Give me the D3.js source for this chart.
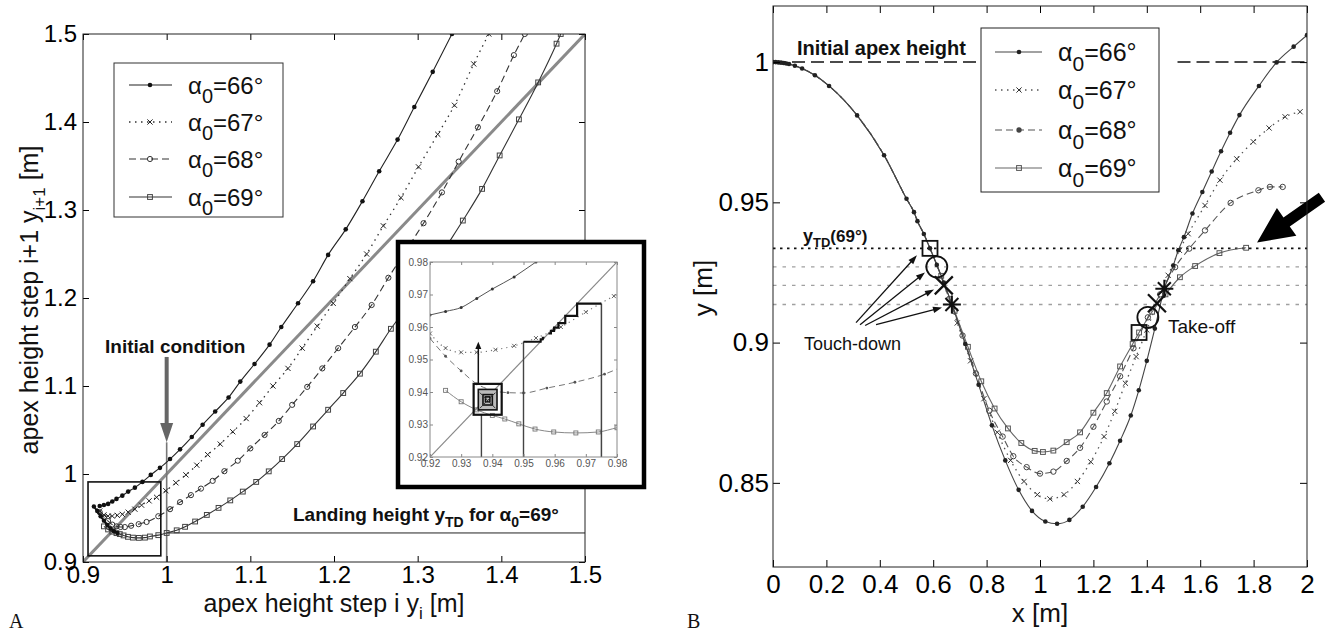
<!DOCTYPE html>
<html><head><meta charset="utf-8">
<script src="https://cdn.jsdelivr.net/npm/d3@7"></script>
<style>
body{margin:0;background:#fff;}
svg{display:block;}
text{font-family:"Liberation Sans",Arial,Helvetica,sans-serif;}
text.serif{font-family:"Liberation Serif","Times New Roman",serif;}
</style>
</head><body>
<svg id="c" width="1326" height="634"></svg>
<script>
// ---------------- DATA ----------------
// Panel A: apex return maps y_{i+1} = f(y_i)
const seriesNames = ["66", "67", "68", "69"];
const A66x = [0.92,0.925,0.93,0.935,0.94,0.947,0.954,0.962,0.971,0.981,0.992,1.004,1.016,1.030,1.043,1.058,1.074,1.088,1.105,1.123,1.137,1.157,1.175,1.193,1.214,1.234,1.254,1.276,1.296,1.318,1.341];
const A66y = [0.9637,0.9648,0.966,0.9688,0.9717,0.9754,0.980,0.9845,0.991,0.999,1.007,1.017,1.028,1.042,1.056,1.071,1.087,1.105,1.125,1.147,1.167,1.194,1.219,1.249,1.278,1.310,1.344,1.380,1.417,1.457,1.5];
const A67x = [0.92,0.925,0.93,0.935,0.941,0.947,0.954,0.962,0.970,0.979,0.988,0.999,1.011,1.023,1.036,1.049,1.064,1.079,1.095,1.111,1.127,1.145,1.162,1.180,1.199,1.219,1.239,1.259,1.280,1.301,1.324,1.344,1.367,1.385];
const A67y = [0.958,0.9535,0.9522,0.9522,0.953,0.9542,0.9566,0.960,0.9646,0.9695,0.9735,0.981,0.990,0.999,1.010,1.022,1.034,1.048,1.063,1.081,1.100,1.120,1.143,1.168,1.194,1.222,1.250,1.282,1.314,1.349,1.386,1.419,1.466,1.5];
const A68x = [0.92,0.925,0.93,0.935,0.94,0.945,0.95,0.9575,0.9665,0.976,0.990,1.004,1.016,1.029,1.041,1.055,1.069,1.085,1.100,1.117,1.134,1.150,1.168,1.186,1.205,1.225,1.245,1.265,1.286,1.307,1.329,1.349,1.372,1.395,1.415,1.428];
const A68y = [0.9565,0.951,0.9465,0.9425,0.9405,0.9398,0.9397,0.9412,0.943,0.9455,0.952,0.960,0.968,0.976,0.9834,0.9922,1.0032,1.0151,1.0291,1.0443,1.0603,1.0786,1.099,1.120,1.143,1.167,1.192,1.223,1.254,1.285,1.320,1.355,1.394,1.435,1.476,1.5];
const A69x = [0.925,0.93,0.935,0.94,0.944,0.9485,0.9537,0.9597,0.9668,0.974,0.98,0.99,1.000,1.012,1.022,1.034,1.048,1.062,1.076,1.091,1.107,1.122,1.138,1.156,1.175,1.193,1.211,1.231,1.250,1.268,1.29,1.31,1.33,1.354,1.377,1.398,1.421,1.444,1.466,1.471];
const A69y = [0.9405,0.937,0.9345,0.9328,0.9317,0.9302,0.9286,0.9277,0.9274,0.9277,0.929,0.9305,0.933,0.936,0.940,0.946,0.9535,0.9615,0.970,0.980,0.991,1.003,1.017,1.034,1.054,1.073,1.092,1.114,1.139,1.165,1.193,1.221,1.252,1.288,1.324,1.362,1.403,1.445,1.489,1.5];
// dense iterate cluster inside the small box
const clusterX = [0.913,0.917,0.921,0.925,0.929,0.933,0.937,0.941];
const clusterY = [0.963,0.958,0.952,0.947,0.942,0.938,0.935,0.933];
// cobweb staircases in inset
const cobAx = [0.975,0.975,0.9672,0.9672,0.9634,0.9634,0.9612,0.9612,0.9598,0.9598,0.9588,0.9588,0.958];
const cobAy = [0.920,0.9672,0.9672,0.9634,0.9634,0.9612,0.9612,0.9598,0.9598,0.9588,0.9588,0.958,0.958];
const cobBx = [0.95,0.95,0.9555,0.9555,0.9562,0.9562,0.9567];
const cobBy = [0.92,0.9555,0.9555,0.9562,0.9562,0.9567,0.9567];
const cobSqX0 = [0.934,0.9355,0.937,0.9378];
const cobSqX1 = [0.943,0.9415,0.940,0.9392];
const cobSqY0 = [0.933,0.9345,0.936,0.937];
const cobSqY1 = [0.9425,0.9408,0.9392,0.9385];
const landingHeight = 0.933;
const initialCondition = 1.0;

// Panel B: trajectories y(x)
const flightX = [0,0.01,0.02,0.03,0.04,0.05,0.06,0.082,0.109,0.157,0.21,0.315,0.416,0.50,0.528,0.541,0.565,0.588,0.6135,0.64,0.67];
const flightY = [1.0,1.0,0.9999,0.9998,0.9997,0.9995,0.9993,0.9987,0.9977,0.9953,0.9915,0.981,0.9668,0.9513,0.9465,0.9433,0.9387,0.9336,0.9277,0.9214,0.9136];
const B66x = [0.72,0.77,0.82,0.87,0.92,0.97,1.02,1.064,1.11,1.16,1.21,1.26,1.30,1.34,1.37,1.40,1.43,1.4657,1.499,1.518,1.539,1.571,1.608,1.643,1.678,1.712,1.747,1.82,1.886,1.95,2.0];
const B66y = [0.8995,0.885,0.8705,0.858,0.8475,0.840,0.8362,0.8354,0.8368,0.8415,0.8485,0.857,0.865,0.874,0.883,0.8935,0.905,0.9192,0.9275,0.9329,0.9376,0.946,0.9537,0.961,0.9682,0.9748,0.9811,0.9915,0.9999,1.0055,1.0096];
const B67x = [0.69,0.74,0.79,0.84,0.89,0.94,0.99,1.037,1.09,1.14,1.19,1.24,1.28,1.32,1.36,1.40,1.438,1.48,1.522,1.555,1.618,1.674,1.737,1.799,1.858,1.918,1.974];
const B67y = [0.907,0.8935,0.880,0.868,0.858,0.8505,0.8458,0.8443,0.8458,0.8505,0.8575,0.8665,0.8755,0.8855,0.895,0.9045,0.914,0.924,0.9329,0.9388,0.9489,0.9579,0.9655,0.9716,0.9765,0.9805,0.9823];
const B68x = [0.66,0.71,0.76,0.81,0.86,0.90,0.95,1.0,1.05,1.10,1.15,1.20,1.25,1.30,1.35,1.404,1.45,1.506,1.559,1.618,1.714,1.818,1.861,1.909];
const B68y = [0.9155,0.9025,0.889,0.8757,0.8665,0.8595,0.8556,0.8533,0.854,0.8578,0.8625,0.870,0.879,0.888,0.898,0.909,0.9172,0.9269,0.9335,0.940,0.9498,0.9543,0.9555,0.9555];
const B69x = [0.63,0.68,0.73,0.78,0.83,0.88,0.93,0.98,1.011,1.05,1.10,1.15,1.20,1.25,1.30,1.347,1.371,1.42,1.47,1.524,1.581,1.672,1.772];
const B69y = [0.9238,0.9113,0.8985,0.8862,0.8765,0.8694,0.8642,0.8614,0.861,0.8615,0.8645,0.868,0.875,0.882,0.8915,0.8995,0.9036,0.911,0.9172,0.9233,0.9273,0.9319,0.9338];
const touchDownX = [0.67,0.6397,0.6135,0.588];
const touchDownY = [0.9136,0.9204,0.927,0.9336];
const takeOffX = [1.4657,1.438,1.404,1.371];
const takeOffY = [0.9192,0.914,0.909,0.9036];
const initialApex = 1.0;

// tick labels
const aTicks = [0.9,1,1.1,1.2,1.3,1.4,1.5];
const aTickLabels = ["0.9","1","1.1","1.2","1.3","1.4","1.5"];
const insetTicks = [0.92,0.93,0.94,0.95,0.96,0.97,0.98];
const insetTickLabels = ["0.92","0.93","0.94","0.95","0.96","0.97","0.98"];
const bxTicks = [0,0.2,0.4,0.6,0.8,1,1.2,1.4,1.6,1.8,2];
const bxTickLabels = ["0","0.2","0.4","0.6","0.8","1","1.2","1.4","1.6","1.8","2"];
const byTicks = [0.85,0.9,0.95,1];
const byTickLabels = ["0.85","0.9","0.95","1"];

// ---------------- DRAWING ----------------
const svg = d3.select("#c");
const defs = svg.append("defs");
function clip(id, x, y, w, h){ defs.append("clipPath").attr("id", id).append("rect").attr("x",x).attr("y",y).attr("width",w).attr("height",h); }

function mark(g, type, cx, cy, s, col, sw){
  sw = sw || 1;
  if (type === "dot") g.append("circle").attr("cx",cx).attr("cy",cy).attr("r",s).attr("fill",col);
  else if (type === "o") g.append("circle").attr("cx",cx).attr("cy",cy).attr("r",s).attr("fill","none").attr("stroke",col).attr("stroke-width",sw);
  else if (type === "sq") g.append("rect").attr("x",cx-s).attr("y",cy-s).attr("width",2*s).attr("height",2*s).attr("fill","none").attr("stroke",col).attr("stroke-width",sw);
  else if (type === "x") g.append("path").attr("d",`M${cx-s},${cy-s}L${cx+s},${cy+s}M${cx-s},${cy+s}L${cx+s},${cy-s}`).attr("stroke",col).attr("stroke-width",sw).attr("fill","none");
  else if (type === "star"){ const d = s*0.72;
    g.append("path").attr("d",`M${cx-s},${cy}L${cx+s},${cy}M${cx},${cy-s}L${cx},${cy+s}M${cx-d},${cy-d}L${cx+d},${cy+d}M${cx-d},${cy+d}L${cx+d},${cy-d}`).attr("stroke",col).attr("stroke-width",sw).attr("fill","none"); }
}

function frame(g, X, Y, xt, xl, yt, yl, fs, padX, padY, tl){
  const [x0, x1] = X.range(), [y0, y1] = Y.range();
  const ax = [
    g.append("g").attr("transform",`translate(0,${y0})`).call(d3.axisBottom(X).tickValues(xt).tickFormat((d,i)=>xl ? xl[i] : "").tickSize(-tl).tickSizeOuter(0).tickPadding(padX)),
    g.append("g").attr("transform",`translate(0,${y1})`).call(d3.axisTop(X).tickValues(xt).tickFormat("").tickSize(-tl).tickSizeOuter(0)),
    g.append("g").attr("transform",`translate(${x0},0)`).call(d3.axisLeft(Y).tickValues(yt).tickFormat((d,i)=>yl ? yl[i] : "").tickSize(-tl).tickSizeOuter(0).tickPadding(padY)),
    g.append("g").attr("transform",`translate(${x1},0)`).call(d3.axisRight(Y).tickValues(yt).tickFormat("").tickSize(-tl).tickSizeOuter(0))
  ];
  ax.forEach(a => { a.select(".domain").remove(); a.attr("font-size", fs); });
  return ax;
}

function series(g, xs, ys, X, Y, st, markAll){
  const pts = xs.map((x,i)=>[x, ys[i]]);
  const line = d3.line().x(d=>X(d[0])).y(d=>Y(d[1])).curve(d3.curveMonotoneX);
  g.append("path").attr("d", line(pts)).attr("fill","none").attr("stroke",st.stroke).attr("stroke-width",st.width)
    .attr("stroke-dasharray", st.dash || null);
  pts.forEach(p => { if (!markAll || markAll(p)) mark(g, st.marker, X(p[0]), Y(p[1]), st.ms, st.mcol, st.msw); });
}

// ===== Panel A =====
const Lx = d3.scaleLinear().domain([0.9,1.5]).range([83,585]);
const Ly = d3.scaleLinear().domain([0.9,1.5]).range([562,34]);
clip("cL", 83, 34, 502, 528);

const aStyles = {
  "66": {stroke:"#222", width:1.1, dash:null, marker:"dot", ms:2.3, mcol:"#111"},
  "67": {stroke:"#333", width:1.3, dash:"1.5,4.5", marker:"x", ms:2.6, mcol:"#222", msw:1},
  "68": {stroke:"#333", width:1.1, dash:"7,4", marker:"o", ms:2.6, mcol:"#333", msw:1},
  "69": {stroke:"#333", width:1.1, dash:null, marker:"sq", ms:2.4, mcol:"#444", msw:1}
};
const aData = {"66":[A66x,A66y], "67":[A67x,A67y], "68":[A68x,A68y], "69":[A69x,A69y]};

const gA = svg.append("g");
const gAc = gA.append("g").attr("clip-path","url(#cL)");
gAc.append("line").attr("x1",Lx(0.9)).attr("y1",Ly(0.9)).attr("x2",Lx(1.5)).attr("y2",Ly(1.5)).attr("stroke","#8a8a8a").attr("stroke-width",3);
gAc.append("line").attr("x1",Lx(initialCondition)).attr("x2",Lx(1.5)).attr("y1",Ly(landingHeight)).attr("y2",Ly(landingHeight)).attr("stroke","#222").attr("stroke-width",1);
gAc.append("line").attr("x1",Lx(initialCondition)).attr("x2",Lx(initialCondition)).attr("y1",Ly(0.9)).attr("y2",Ly(1.036)).attr("stroke","#777").attr("stroke-width",1.6);
seriesNames.forEach(k => series(gAc, aData[k][0], aData[k][1], Lx, Ly, aStyles[k]));
series(gAc, clusterX, clusterY, Lx, Ly, {stroke:"#111", width:2, marker:"dot", ms:2.2, mcol:"#111"});
gA.append("rect").attr("x",Lx(0.906)).attr("y",Ly(0.991)).attr("width",Lx(0.993)-Lx(0.906)).attr("height",Ly(0.907)-Ly(0.991))
  .attr("fill","none").attr("stroke","#111").attr("stroke-width",1.6);
const axp = Lx(initialCondition);
gA.append("line").attr("x1",axp).attr("x2",axp).attr("y1",Ly(1.133)).attr("y2",Ly(1.056)).attr("stroke","#666").attr("stroke-width",4);
gA.append("path").attr("d",`M${axp-6.5},${Ly(1.058)}L${axp+6.5},${Ly(1.058)}L${axp},${Ly(1.036)}Z`).attr("fill","#666");

frame(gA, Lx, Ly, aTicks, aTickLabels, aTicks, aTickLabels, 24, 4, 6, 6);
gA.append("rect").attr("x",83).attr("y",34).attr("width",502).attr("height",528).attr("fill","none").attr("stroke","#222").attr("stroke-width",1);

// Left legend
const legA = gA.append("g");
legA.append("rect").attr("x",114).attr("y",63).attr("width",169).attr("height",154).attr("fill","#fff").attr("stroke","#333").attr("stroke-width",1);
[85,122,159,197].forEach((yy,i) => {
  const k = seriesNames[i], st = aStyles[k];
  legA.append("line").attr("x1",129).attr("x2",172).attr("y1",yy).attr("y2",yy).attr("stroke",st.stroke).attr("stroke-width",st.width).attr("stroke-dasharray",st.dash||null);
  mark(legA, st.marker, 150, yy, st.ms, st.mcol, st.msw);
  const t = legA.append("text").attr("x",188).attr("y",yy+9).attr("font-size",24).attr("fill","#111");
  t.append("tspan").text("α");
  t.append("tspan").attr("font-size",20).attr("dy",9).text("0");
  t.append("tspan").attr("dy",-9).text("=" + k + "°");
});

// Texts panel A
gA.append("text").attr("x",105).attr("y",353).attr("font-size",19).attr("font-weight","bold").attr("fill","#111").text("Initial condition");
const lt = gA.append("text").attr("x",293).attr("y",521).attr("font-size",19).attr("font-weight","bold").attr("fill","#111");
lt.append("tspan").text("Landing height y");
lt.append("tspan").attr("font-size",14).attr("dy",6).text("TD");
lt.append("tspan").attr("dy",-6).text(" for α");
lt.append("tspan").attr("font-size",14).attr("dy",6).text("0");
lt.append("tspan").attr("dy",-6).text("=69°");

const xlA = gA.append("text").attr("x",334).attr("y",612).attr("text-anchor","middle").attr("font-size",25).attr("fill","#111");
xlA.append("tspan").text("apex height step i  y");
xlA.append("tspan").attr("font-size",17).attr("dy",7).text("i");
xlA.append("tspan").attr("dy",-7).text(" [m]");
const ylA = gA.append("text").attr("transform","translate(38,300) rotate(-90)").attr("text-anchor","middle").attr("font-size",25).attr("fill","#111");
ylA.append("tspan").text("apex height step i+1  y");
ylA.append("tspan").attr("font-size",17).attr("dy",7).text("i+1");
ylA.append("tspan").attr("dy",-7).text(" [m]");
svg.append("text").attr("class","serif").attr("x",9).attr("y",628).attr("font-size",20).attr("fill","#111").text("A");

// ===== Inset =====
const Ix = d3.scaleLinear().domain([0.92,0.98]).range([430,617]);
const Iy = d3.scaleLinear().domain([0.92,0.98]).range([457,262]);
clip("cI", 430, 262, 187, 195);
const gI = svg.append("g");
gI.append("rect").attr("x",398).attr("y",242).attr("width",246).attr("height",245).attr("fill","#fff").attr("stroke","#000").attr("stroke-width",4.5);
const gIc = gI.append("g").attr("clip-path","url(#cI)");
gIc.append("line").attr("x1",Ix(0.92)).attr("y1",Iy(0.92)).attr("x2",Ix(0.98)).attr("y2",Iy(0.98)).attr("stroke","#888").attr("stroke-width",1.2);
const iStyles = {
  "66": {stroke:"#555", width:1, marker:"dot", ms:1.5, mcol:"#333"},
  "67": {stroke:"#777", width:1.2, dash:"1.2,4", marker:"x", ms:2, mcol:"#555", msw:0.9},
  "68": {stroke:"#777", width:1, dash:"6,4", marker:"dot", ms:1.4, mcol:"#555"},
  "69": {stroke:"#888", width:1, marker:"sq", ms:2, mcol:"#777", msw:0.9}
};
seriesNames.forEach(k => series(gIc, aData[k][0], aData[k][1], Ix, Iy, iStyles[k], p => p[0] >= 0.919 && p[0] <= 0.981));
const lineI = d3.line().x(d=>Ix(d[0])).y(d=>Iy(d[1]));
const ptsA = cobAx.map((x,i)=>[x,cobAy[i]]);
gIc.append("path").attr("d",lineI(ptsA.slice(0,2))).attr("fill","none").attr("stroke","#444").attr("stroke-width",1.5);
gIc.append("path").attr("d",lineI(ptsA.slice(1))).attr("fill","none").attr("stroke","#111").attr("stroke-width",2.2);
const ptsB = cobBx.map((x,i)=>[x,cobBy[i]]);
gIc.append("path").attr("d",lineI(ptsB.slice(0,2))).attr("fill","none").attr("stroke","#444").attr("stroke-width",1.4);
gIc.append("path").attr("d",lineI(ptsB.slice(1))).attr("fill","none").attr("stroke","#111").attr("stroke-width",2);
gIc.append("line").attr("x1",Ix(0.9365)).attr("x2",Ix(0.9365)).attr("y1",Iy(0.92)).attr("y2",Iy(0.933)).attr("stroke","#444").attr("stroke-width",1.4);
gIc.append("rect").attr("x",Ix(cobSqX0[1])).attr("y",Iy(cobSqY1[1])).attr("width",Ix(cobSqX1[1])-Ix(cobSqX0[1])).attr("height",Iy(cobSqY0[1])-Iy(cobSqY1[1])).attr("fill","#bbb");
cobSqX0.forEach((x0,i) => {
  gIc.append("rect").attr("x",Ix(x0)).attr("y",Iy(cobSqY1[i])).attr("width",Ix(cobSqX1[i])-Ix(x0)).attr("height",Iy(cobSqY0[i])-Iy(cobSqY1[i]))
    .attr("fill","none").attr("stroke","#111").attr("stroke-width", i===0 ? 2.2 : 1.6);
});
gIc.append("path").attr("d",`M${Ix(0.936)},${Iy(0.9398)}L${Ix(0.941)},${Iy(0.935)}M${Ix(0.936)},${Iy(0.935)}L${Ix(0.941)},${Iy(0.9398)}`).attr("stroke","#333").attr("stroke-width",1);
const iax = Ix(0.9355);
gIc.append("line").attr("x1",iax).attr("x2",iax).attr("y1",Iy(0.9425)).attr("y2",Iy(0.9535)).attr("stroke","#111").attr("stroke-width",1.5);
gIc.append("path").attr("d",`M${iax-3},${Iy(0.9532)}L${iax+3},${Iy(0.9532)}L${iax},${Iy(0.9555)}Z`).attr("fill","#111");
const iAx = frame(gI, Ix, Iy, insetTicks, insetTickLabels, insetTicks, insetTickLabels, 10, 3, 2, 3);
iAx.forEach(a => { a.selectAll("text").attr("fill","#555"); a.selectAll("line").attr("stroke","#888"); });
gI.append("rect").attr("x",430).attr("y",262).attr("width",187).attr("height",195).attr("fill","none").attr("stroke","#888").attr("stroke-width",1);

// ===== Panel B =====
const Rx = d3.scaleLinear().domain([0,2]).range([773,1307]);
const Ry = d3.scaleLinear().domain([0.82,1.02]).range([567,6]);
clip("cR", 773, 6, 534, 561);
const gB = svg.append("g");
const gBc = gB.append("g").attr("clip-path","url(#cR)");

touchDownY.forEach((yv,i) => {
  const black = (i === 3);
  gBc.append("line").attr("x1",Rx(0)).attr("x2",Rx(2)).attr("y1",Ry(yv)).attr("y2",Ry(yv))
    .attr("stroke", black ? "#111" : "#a0a0a0").attr("stroke-width", black ? 1.6 : 1.4).attr("stroke-dasharray", black ? "2.5,4.5" : "3.5,6");
});
[[0,0.78],[1.515,2]].forEach(seg => {
  gBc.append("line").attr("x1",Rx(seg[0])).attr("x2",Rx(seg[1])).attr("y1",Ry(initialApex)).attr("y2",Ry(initialApex))
    .attr("stroke","#111").attr("stroke-width",1.5).attr("stroke-dasharray","13,6");
});

const bStyles = {
  "66": {stroke:"#444", width:1.1, marker:"dot", ms:2.3, mcol:"#222"},
  "67": {stroke:"#555", width:1.3, dash:"1.5,4.5", marker:"x", ms:2.6, mcol:"#333", msw:1},
  "68": {stroke:"#555", width:1.1, dash:"7,4", marker:"o", ms:2.7, mcol:"#444", msw:1},
  "69": {stroke:"#666", width:1.1, marker:"sq", ms:2.4, mcol:"#555", msw:1}
};
const bData = {"66":[B66x,B66y], "67":[B67x,B67y], "68":[B68x,B68y], "69":[B69x,B69y]};
[3,2,1,0].forEach(i => {
  const k = seriesNames[i];
  const fx = [], fy = [];
  flightX.forEach((x,j) => { if (x <= touchDownX[i] + 1e-6) { fx.push(x); fy.push(flightY[j]); } });
  const xs = fx.concat(bData[k][0]), ys = fy.concat(bData[k][1]);
  const own = new Set(bData[k][0]);
  series(gBc, xs, ys, Rx, Ry, bStyles[k], p => (i === 0) || own.has(p[0]));
});
const bigTypes = ["star","x","o","sq"];
const bigSizes = [9,9,10.5,7.5];
const bigW = [2,2.2,1.8,1.8];
[touchDownX, takeOffX].forEach((arrX, s) => {
  const arrY = s === 0 ? touchDownY : takeOffY;
  arrX.forEach((x,i) => mark(gB, bigTypes[i], Rx(x), Ry(arrY[i]), bigSizes[i], "#111", bigW[i]));
});
const tdStartX = [0.386,0.345,0.326,0.311];
const tdStartY = [0.9064,0.9061,0.9064,0.9071];
const tdTipX = [0.633,0.603,0.569,0.539];
const tdTipY = [0.9125,0.9189,0.925,0.9311];
tdStartX.forEach((x,i) => {
  const x1 = Rx(x), y1 = Ry(tdStartY[i]), x2 = Rx(tdTipX[i]), y2 = Ry(tdTipY[i]);
  const L = Math.hypot(x2-x1, y2-y1), ux = (x2-x1)/L, uy = (y2-y1)/L, h = 9, w = 3.2;
  gB.append("line").attr("x1",x1).attr("y1",y1).attr("x2",x2-ux*h*0.8).attr("y2",y2-uy*h*0.8).attr("stroke","#111").attr("stroke-width",1.3);
  gB.append("path").attr("d",`M${x2},${y2}L${x2-ux*h-uy*w},${y2-uy*h+ux*w}L${x2-ux*h+uy*w},${y2-uy*h-ux*w}Z`).attr("fill","#111");
});
(function(){
  const x1 = Rx(2.056), y1 = Ry(0.9518), x2 = Rx(1.813), y2 = Ry(0.9357);
  const L = Math.hypot(x2-x1, y2-y1), ux = (x2-x1)/L, uy = (y2-y1)/L, nx = -uy, ny = ux;
  const hl = 36, hw = 17, sw = 5.5;
  const bx = x2-ux*hl, by = y2-uy*hl;
  const P = [[x1+nx*sw,y1+ny*sw],[bx+nx*sw,by+ny*sw],[bx+nx*hw,by+ny*hw],[x2,y2],[bx-nx*hw,by-ny*hw],[bx-nx*sw,by-ny*sw],[x1-nx*sw,y1-ny*sw]];
  gB.append("path").attr("d","M"+P.map(p=>p.join(",")).join("L")+"Z").attr("fill","#000");
})();

frame(gB, Rx, Ry, bxTicks, bxTickLabels, byTicks, byTickLabels, 26, 8, 4, 7);
gB.append("rect").attr("x",773).attr("y",6).attr("width",534).attr("height",561).attr("fill","none").attr("stroke","#222").attr("stroke-width",1);

const legB = gB.append("g");
legB.append("rect").attr("x",981).attr("y",28).attr("width",178).attr("height",164).attr("fill","#fff").attr("stroke","#222").attr("stroke-width",1);
[52,90,130,168].forEach((yy,i) => {
  const k = seriesNames[i], st = bStyles[k];
  legB.append("line").attr("x1",995).attr("x2",1042).attr("y1",yy).attr("y2",yy).attr("stroke",st.stroke).attr("stroke-width",st.width).attr("stroke-dasharray",st.dash||null);
  mark(legB, i===2 ? "dot" : st.marker, 1019, yy, st.ms, st.mcol, st.msw);
  const t = legB.append("text").attr("x",1058).attr("y",yy+9).attr("font-size",25).attr("fill","#111");
  t.append("tspan").text("α");
  t.append("tspan").attr("font-size",21).attr("dy",10).text("0");
  t.append("tspan").attr("dy",-10).text("=" + k + "°");
});

gB.append("text").attr("x",797).attr("y",55).attr("font-size",20).attr("font-weight","bold").attr("fill","#111").text("Initial apex height");
const yt = gB.append("text").attr("x",803).attr("y",242).attr("font-size",18).attr("font-weight","bold").attr("fill","#111");
yt.append("tspan").text("y");
yt.append("tspan").attr("font-size",13).attr("dy",5).text("TD");
yt.append("tspan").attr("dy",-5).attr("font-size",17).text("(69°)");
gB.append("text").attr("x",804).attr("y",350).attr("font-size",18).attr("fill","#111").text("Touch-down");
gB.append("text").attr("x",1168).attr("y",333).attr("font-size",19).attr("fill","#111").text("Take-off");
gB.append("text").attr("x",1040).attr("y",622).attr("text-anchor","middle").attr("font-size",26).attr("fill","#111").text("x [m]");
gB.append("text").attr("transform","translate(712,288) rotate(-90)").attr("text-anchor","middle").attr("font-size",26).attr("fill","#111").text("y [m]");
svg.append("text").attr("class","serif").attr("x",687).attr("y",628).attr("font-size",20).attr("fill","#111").text("B");
</script>
</body></html>
